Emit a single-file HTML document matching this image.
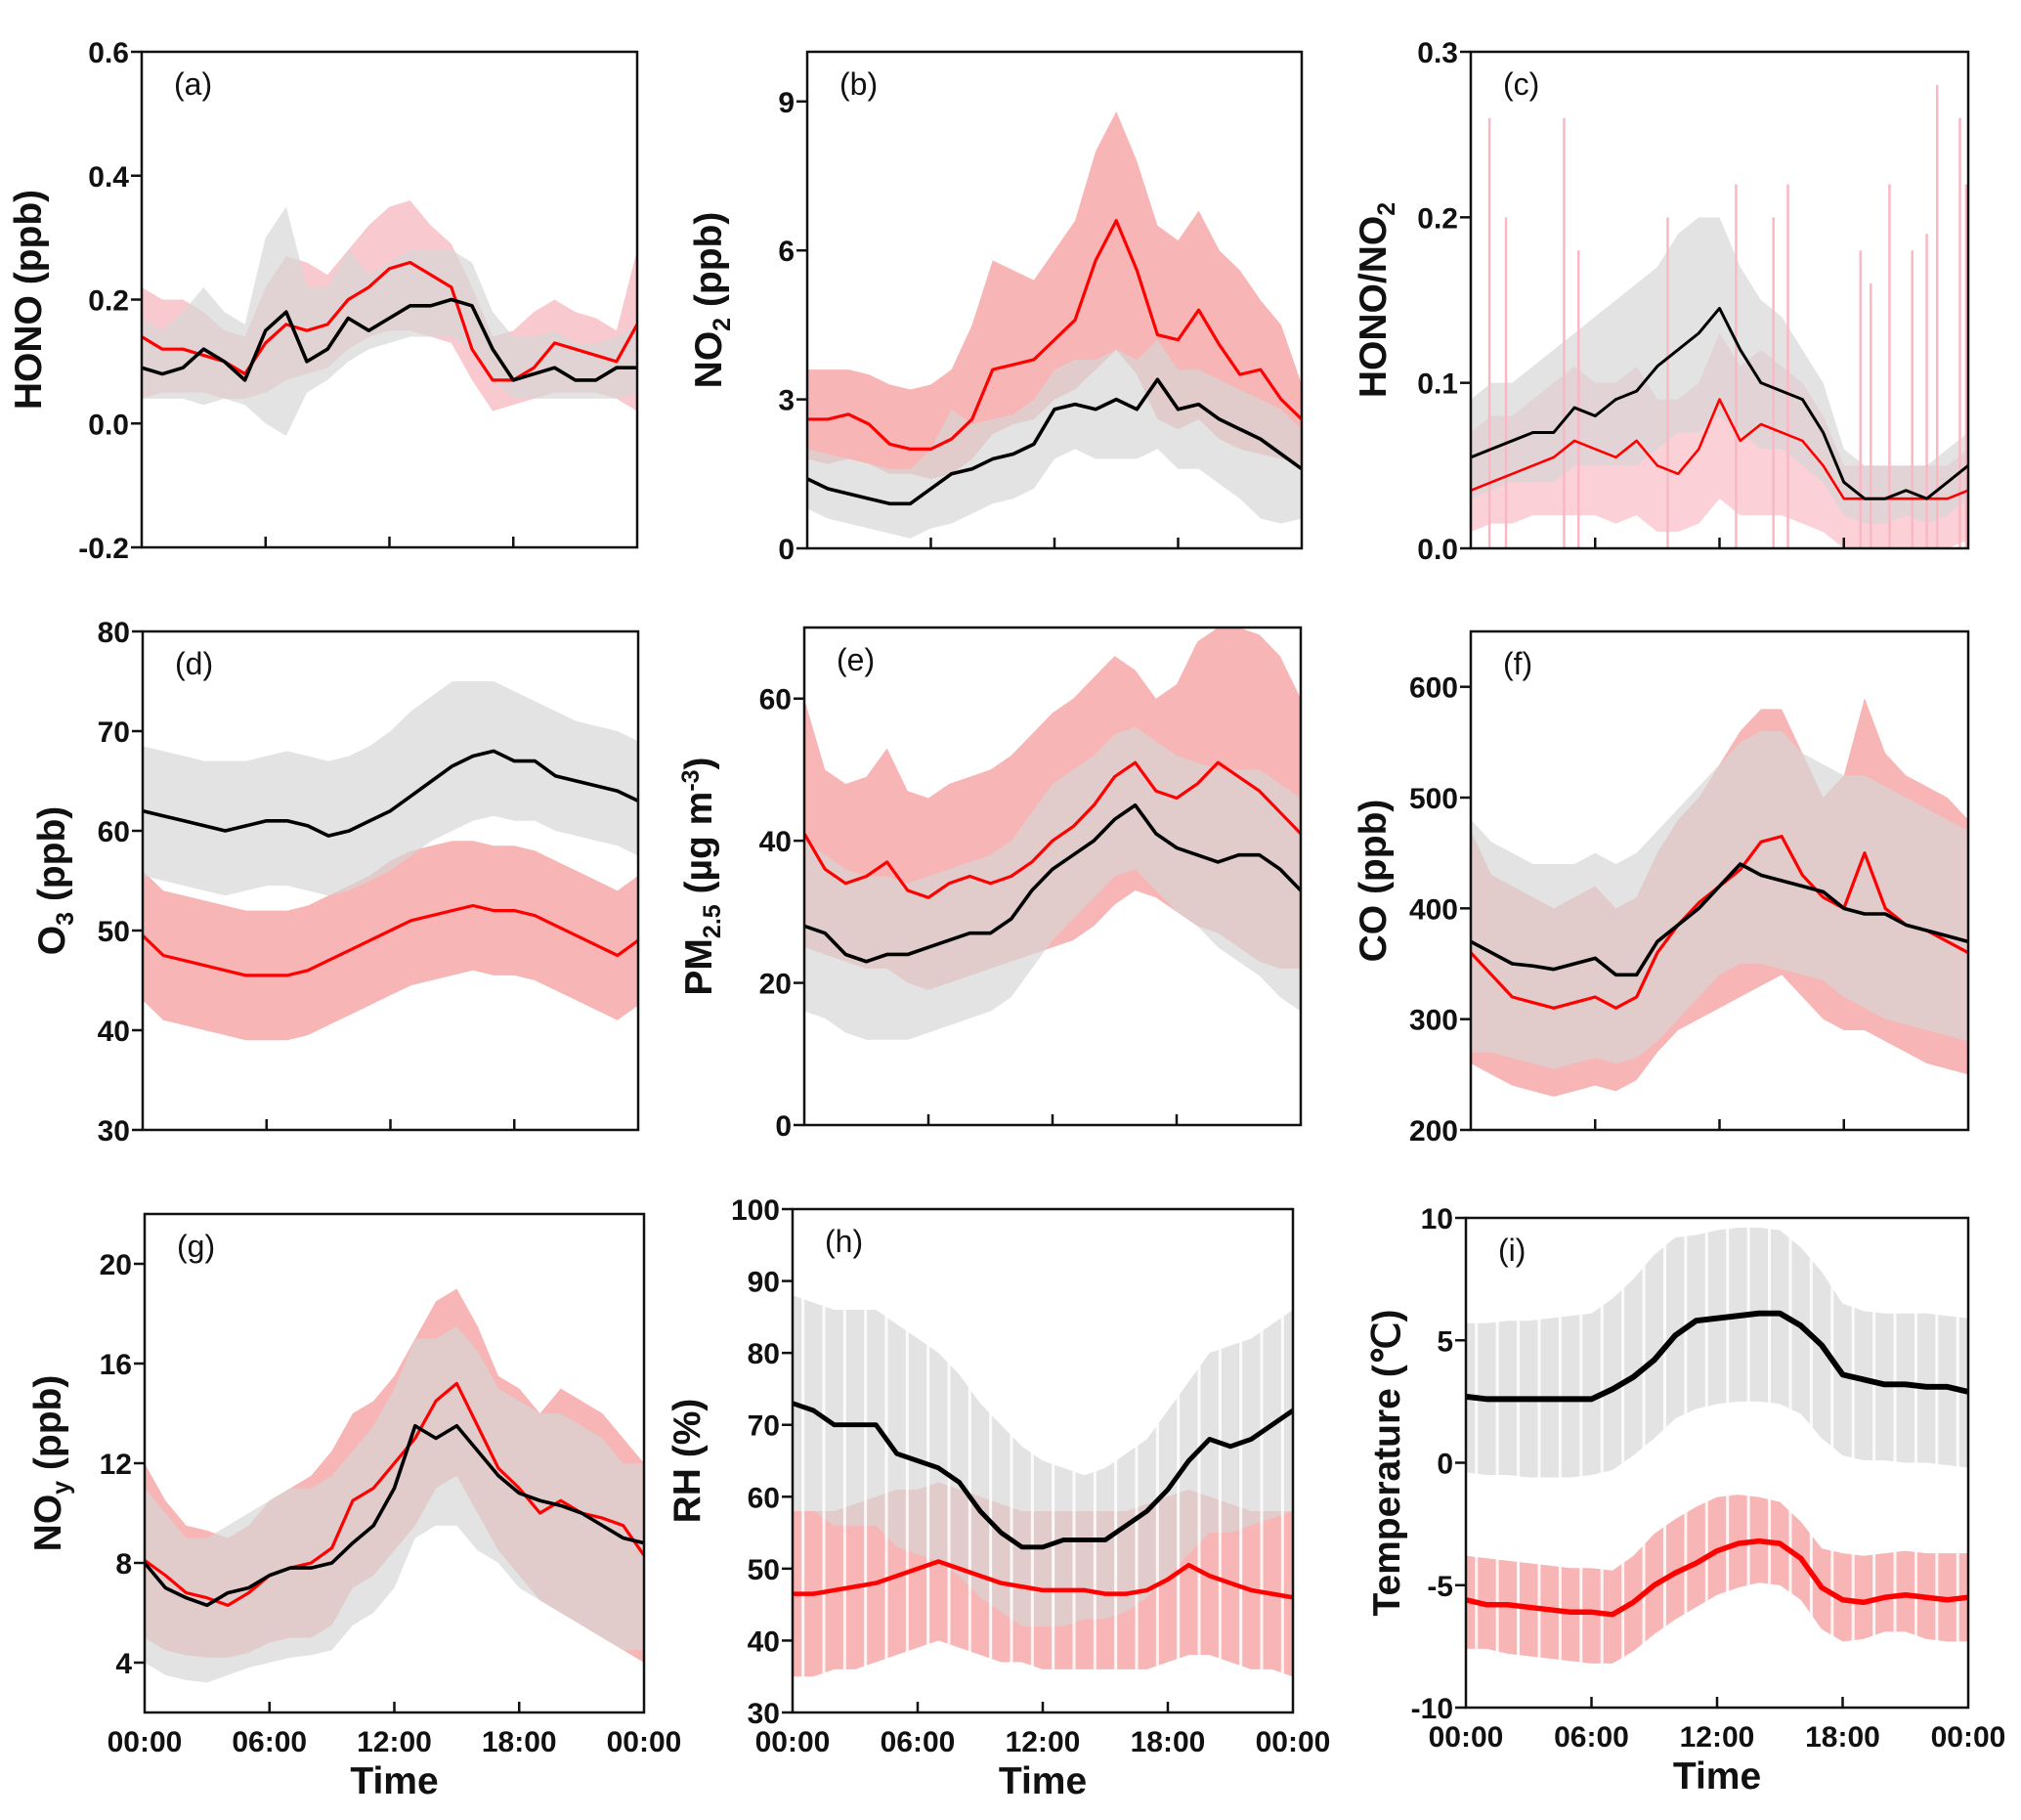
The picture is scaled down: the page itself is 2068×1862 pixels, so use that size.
<!DOCTYPE html>
<html><head><meta charset="utf-8">
<style>
html,body{margin:0;padding:0;background:#fff;}
svg text{font-family:"Liberation Sans",Arial,sans-serif;}
.tk{font-size:30px;font-weight:bold;fill:#111;}
.tt{font-size:39px;font-weight:bold;fill:#111;}
.pl{font-size:32px;fill:#111;}
</style></head>
<body>
<svg id="fig" width="2068" height="1857" viewBox="0 0 2068 1857" xmlns="http://www.w3.org/2000/svg"></svg>
<script>
const hours=[0,1,2,3,4,5,6,7,8,9,10,11,12,13,14,15,16,17,18,19,20,21,22,23,24];
const xTickHours=[0,6,12,18,24];
const xTickLabels=["00:00","06:00","12:00","18:00","00:00"];
// (a) HONO
const aRed=[.14,.12,.12,.11,.10,.08,.13,.16,.15,.16,.20,.22,.25,.26,.24,.22,.12,.07,.07,.09,.13,.12,.11,.10,.16];
const aBlack=[.09,.08,.09,.12,.10,.07,.15,.18,.10,.12,.17,.15,.17,.19,.19,.20,.19,.12,.07,.08,.09,.07,.07,.09,.09];
const aRedHi=[.22,.20,.20,.18,.15,.14,.22,.27,.26,.24,.28,.32,.35,.36,.32,.29,.22,.14,.15,.18,.20,.18,.17,.15,.28];
const aRedLo=[.04,.05,.05,.05,.04,.04,.05,.07,.08,.09,.12,.14,.15,.15,.14,.13,.07,.02,.03,.04,.05,.05,.05,.04,.02];
const aGrayHi=[.17,.15,.18,.22,.18,.16,.30,.35,.22,.22,.28,.24,.26,.28,.28,.28,.26,.18,.14,.14,.15,.13,.13,.14,.16];
const aGrayLo=[.04,.04,.04,.03,.04,.03,.0,-.02,.05,.07,.10,.12,.13,.14,.14,.14,.12,.07,.04,.04,.04,.04,.04,.04,.05];
const aTicks=[-0.2,0.0,0.2,0.4,0.6];
const aTickLabels=["-0.2","0.0","0.2","0.4","0.6"];
// (b) NO2
const bRed=[2.6,2.6,2.7,2.5,2.1,2.0,2.0,2.2,2.6,3.6,3.7,3.8,4.2,4.6,5.8,6.6,5.6,4.3,4.2,4.8,4.1,3.5,3.6,3.0,2.6];
const bBlack=[1.4,1.2,1.1,1.0,0.9,0.9,1.2,1.5,1.6,1.8,1.9,2.1,2.8,2.9,2.8,3.0,2.8,3.4,2.8,2.9,2.6,2.4,2.2,1.9,1.6];
const bRedHi=[3.6,3.6,3.6,3.5,3.3,3.2,3.3,3.6,4.5,5.8,5.6,5.4,6.0,6.6,8.0,8.8,7.8,6.5,6.2,6.8,6.0,5.6,5.0,4.5,3.3];
const bRedLo=[1.8,1.7,1.8,1.7,1.5,1.5,1.4,1.5,1.8,2.3,2.5,2.6,3.0,3.2,3.6,4.0,3.5,2.6,2.4,2.6,2.2,2.0,1.9,1.8,1.7];
const bGrayHi=[2.0,1.9,1.8,1.7,1.6,1.6,2.0,2.8,2.5,2.6,2.7,3.0,3.6,3.8,3.8,4.0,3.8,4.2,3.6,3.6,3.4,3.2,3.0,2.8,2.4];
const bGrayLo=[0.8,0.6,0.5,0.4,0.3,0.2,0.4,0.5,0.7,0.9,1.0,1.2,1.8,2.0,1.8,1.8,1.8,2.0,1.6,1.6,1.3,1.0,0.6,0.5,0.6];
const bTicks=[0,3,6,9];
const bTickLabels=["0","3","6","9"];
// (c) HONO/NO2
const cRed=[.035,.04,.045,.05,.055,.065,.06,.055,.065,.05,.045,.06,.09,.065,.075,.07,.065,.05,.03,.03,.03,.03,.03,.03,.035];
const cBlack=[.055,.06,.065,.07,.07,.085,.08,.09,.095,.11,.12,.13,.145,.12,.10,.095,.09,.07,.04,.03,.03,.035,.03,.04,.05];
const cRedHi=[.07,.08,.08,.09,.10,.11,.10,.10,.11,.09,.09,.10,.13,.11,.12,.11,.10,.08,.05,.05,.05,.05,.05,.05,.06];
const cRedLo=[.01,.015,.015,.02,.02,.02,.02,.015,.02,.01,.01,.015,.03,.02,.02,.02,.015,.01,.0,.0,.0,.0,.0,.0,.005];
const cGrayHi=[.09,.10,.10,.11,.12,.13,.14,.15,.16,.17,.19,.20,.20,.17,.15,.14,.12,.10,.06,.05,.05,.05,.05,.06,.07];
const cGrayLo=[.03,.035,.04,.04,.04,.05,.05,.05,.05,.06,.07,.07,.08,.07,.06,.06,.05,.04,.02,.015,.015,.02,.015,.02,.03];
const cSpikeHours=[0.9,1.7,4.5,5.2,9.5,12.8,14.6,15.3,18.8,19.3,20.2,21.3,22.0,22.5,23.6,23.9];
const cSpikeTops=[0.26,0.20,0.26,0.18,0.20,0.22,0.20,0.22,0.18,0.16,0.22,0.18,0.19,0.28,0.26,0.22];
const cTicks=[0,0.1,0.2,0.3];
const cTickLabels=["0.0","0.1","0.2","0.3"];
// (d) O3
const dRed=[49.5,47.5,47,46.5,46,45.5,45.5,45.5,46,47,48,49,50,51,51.5,52,52.5,52,52,51.5,50.5,49.5,48.5,47.5,49];
const dBlack=[62,61.5,61,60.5,60,60.5,61,61,60.5,59.5,60,61,62,63.5,65,66.5,67.5,68,67,67,65.5,65,64.5,64,63];
const dRedHi=[56,54,53.5,53,52.5,52,52,52,52.5,53.5,54.5,55.5,57,58,58.5,59,59,58.5,58.5,58,57,56,55,54,55.5];
const dRedLo=[43,41,40.5,40,39.5,39,39,39,39.5,40.5,41.5,42.5,43.5,44.5,45,45.5,46,45.5,45.5,45,44,43,42,41,42.5];
const dGrayHi=[68.5,68,67.5,67,67,67,67.5,68,67.5,67,67.5,68.5,70,72,73.5,75,75,75,74,73,72,71,70.5,70,69];
const dGrayLo=[55.5,55,54.5,54,53.5,54,54.5,54.5,54,53.5,54,55,56,57.5,59,60,61,61.5,61,61,60,59.5,59,58.5,57.5];
const dTicks=[30,40,50,60,70,80];
const dTickLabels=["30","40","50","60","70","80"];
// (e) PM2.5
const eRed=[41,36,34,35,37,33,32,34,35,34,35,37,40,42,45,49,51,47,46,48,51,49,47,44,41];
const eBlack=[28,27,24,23,24,24,25,26,27,27,29,33,36,38,40,43,45,41,39,38,37,38,38,36,33];
const eRedHi=[60,50,48,49,53,47,46,48,49,50,52,55,58,60,63,66,64,60,62,68,70,70,69,66,60];
const eRedLo=[25,24,23,22,22,20,19,20,21,22,23,24,25,26,28,31,33,32,30,28,27,25,23,22,22];
const eGrayHi=[40,38,36,35,35,34,35,36,37,38,40,44,48,50,52,55,56,54,52,51,50,50,50,48,46];
const eGrayLo=[16,15,13,12,12,12,13,14,15,16,18,22,26,29,32,35,36,33,30,28,25,23,21,18,16];
const eTicks=[0,20,40,60];
const eTickLabels=["0","20","40","60"];
// (f) CO
const fRed=[360,340,320,315,310,315,320,310,320,360,385,405,420,435,460,465,430,410,400,450,400,385,380,370,360];
const fBlack=[370,360,350,348,345,350,355,340,340,370,385,400,420,440,430,425,420,415,400,395,395,385,380,375,370];
const fRedHi=[470,430,420,410,400,410,420,400,410,450,480,500,530,560,580,580,540,500,520,590,540,520,510,500,480];
const fRedLo=[260,250,240,235,230,235,240,235,245,270,290,300,310,320,330,340,320,300,290,290,280,270,260,255,250];
const fGrayHi=[480,460,450,440,440,440,450,440,450,470,490,510,530,550,560,560,540,530,520,520,510,500,490,480,470];
const fGrayLo=[270,270,265,260,255,260,265,260,265,280,300,320,340,350,350,345,340,335,320,310,300,295,290,285,280];
const fTicks=[200,300,400,500,600];
const fTickLabels=["200","300","400","500","600"];
// (g) NOy
const gRed=[8.1,7.5,6.8,6.6,6.3,6.8,7.5,7.8,8.0,8.6,10.5,11.0,12.0,13.0,14.5,15.2,13.5,11.8,11.0,10.0,10.5,10.0,9.8,9.5,8.3];
const gBlack=[8.0,7.0,6.6,6.3,6.8,7.0,7.5,7.8,7.8,8.0,8.8,9.5,11.0,13.5,13.0,13.5,12.5,11.5,10.8,10.5,10.3,10.0,9.5,9.0,8.8];
const gRedHi=[12,10.5,9.5,9.3,9.0,9.5,10.5,11.0,11.5,12.5,14.0,14.5,15.5,17.0,18.5,19.0,17.5,15.5,15.0,14.0,15.0,14.5,14.0,13.0,12.0];
const gRedLo=[5,4.5,4.3,4.2,4.2,4.4,4.8,5.0,5.0,5.5,7.0,7.5,8.5,9.5,11.0,11.5,10.0,8.5,7.5,6.5,6.0,5.5,5.0,4.5,4.0];
const gGrayHi=[11,10,9,9,9.5,10,10.5,11,11,11.5,12.5,13.5,15,17,17,17.5,16.5,15,14.5,14,14,13.5,13,12,12];
const gGrayLo=[4,3.5,3.3,3.2,3.5,3.8,4.0,4.2,4.3,4.5,5.5,6.0,7.0,9.0,9.5,9.5,8.5,8.0,7.0,6.5,6.0,5.5,5.0,4.5,4.5];
const gTicks=[4,8,12,16,20];
const gTickLabels=["4","8","12","16","20"];
// (h) RH
const hRed=[46.5,46.5,47,47.5,48,49,50,51,50,49,48,47.5,47,47,47,46.5,46.5,47,48.5,50.5,49,48,47,46.5,46];
const hBlack=[73,72,70,70,70,66,65,64,62,58,55,53,53,54,54,54,56,58,61,65,68,67,68,70,72];
const hRedHi=[58,58,58,59,60,61,61,62,61,60,59,58,58,58,58,58,58,59,60,61,60,59,58,58,58];
const hRedLo=[35,35,36,36,37,38,39,40,39,38,37,37,36,36,36,36,36,36,37,38,38,37,36,36,35];
const hGrayHi=[88,87,86,86,86,84,82,80,77,73,70,67,65,64,63,64,66,68,72,76,80,81,82,84,86];
const hGrayLo=[58,58,56,56,56,53,52,51,49,46,44,42,42,42,43,43,44,46,49,52,55,55,56,57,58];
const hTicks=[30,40,50,60,70,80,90,100];
const hTickLabels=["30","40","50","60","70","80","90","100"];
// (i) Temperature
const iRed=[-5.6,-5.8,-5.8,-5.9,-6.0,-6.1,-6.1,-6.2,-5.7,-5.0,-4.5,-4.1,-3.6,-3.3,-3.2,-3.3,-3.9,-5.1,-5.6,-5.7,-5.5,-5.4,-5.5,-5.6,-5.5];
const iBlack=[2.7,2.6,2.6,2.6,2.6,2.6,2.6,3.0,3.5,4.2,5.2,5.8,5.9,6.0,6.1,6.1,5.6,4.8,3.6,3.4,3.2,3.2,3.1,3.1,2.9];
const iRedHi=[-3.8,-3.9,-4.0,-4.1,-4.2,-4.3,-4.3,-4.4,-3.8,-2.9,-2.3,-1.8,-1.4,-1.3,-1.4,-1.6,-2.4,-3.5,-3.7,-3.8,-3.7,-3.6,-3.7,-3.7,-3.7];
const iRedLo=[-7.6,-7.6,-7.8,-7.9,-8.0,-8.1,-8.2,-8.2,-7.7,-7.0,-6.4,-5.9,-5.4,-5.1,-4.9,-5.0,-5.6,-6.8,-7.3,-7.2,-6.9,-6.9,-7.2,-7.3,-7.3];
const iGrayHi=[5.7,5.7,5.8,5.8,5.9,6.0,6.1,6.7,7.5,8.5,9.2,9.3,9.5,9.6,9.6,9.5,8.8,7.8,6.5,6.2,6.1,6.1,6.1,6.0,5.9];
const iGrayLo=[-0.4,-0.5,-0.5,-0.6,-0.6,-0.6,-0.5,-0.3,0.3,1.0,1.8,2.2,2.4,2.5,2.5,2.4,2.0,1.0,0.3,0.1,0.1,0.0,0.0,-0.1,-0.2];
const iTicks=[-10,-5,0,5,10];
const iTickLabels=["-10","-5","0","5","10"];

const NS="http://www.w3.org/2000/svg";
const fig=document.getElementById('fig');
function mk(tag,attrs,parent){const e=document.createElementNS(NS,tag);for(const k in attrs)e.setAttribute(k,attrs[k]);(parent||fig).appendChild(e);return e;}

const panels=[
 {id:'a',x0:145,x1:652,y0:53,y1:560,ymin:-0.2,ymax:0.6,ticks:aTicks,tl:aTickLabels,red:aRed,black:aBlack,rh:aRedHi,rl:aRedLo,gh:aGrayHi,gl:aGrayLo,pink:'#f9c6cd',title:[['HONO (ppb)']],tx:42,xl:false,lw:3.2},
 {id:'b',x0:826,x1:1332,y0:53,y1:561,ymin:0,ymax:10,ticks:bTicks,tl:bTickLabels,red:bRed,black:bBlack,rh:bRedHi,rl:bRedLo,gh:bGrayHi,gl:bGrayLo,pink:'#f8b1b1',title:[['NO'],['2','sub'],[' (ppb)']],tx:738,xl:false,lw:3.2},
 {id:'c',x0:1505,x1:2014,y0:53,y1:561,ymin:0,ymax:0.3,ticks:cTicks,tl:cTickLabels,red:cRed,black:cBlack,rh:cRedHi,rl:cRedLo,gh:cGrayHi,gl:cGrayLo,pink:'#fbcdd5',title:[['HONO/NO'],['2','sub']],tx:1418,xl:false,lw:2.6,spikes:true},
 {id:'d',x0:146,x1:653,y0:646,y1:1156,ymin:30,ymax:80,ticks:dTicks,tl:dTickLabels,red:dRed,black:dBlack,rh:dRedHi,rl:dRedLo,gh:dGrayHi,gl:dGrayLo,pink:'#f8b1b1',title:[['O'],['3','sub'],[' (ppb)']],tx:66,xl:false,lw:3.2},
 {id:'e',x0:823,x1:1331,y0:642,y1:1151,ymin:0,ymax:70,ticks:eTicks,tl:eTickLabels,red:eRed,black:eBlack,rh:eRedHi,rl:eRedLo,gh:eGrayHi,gl:eGrayLo,pink:'#f8b1b1',title:[['PM'],['2.5','sub'],[' (µg m'],['-3','sup'],[')']],tx:728,xl:false,lw:3.2},
 {id:'f',x0:1505,x1:2014,y0:646,y1:1156,ymin:200,ymax:650,ticks:fTicks,tl:fTickLabels,red:fRed,black:fBlack,rh:fRedHi,rl:fRedLo,gh:fGrayHi,gl:fGrayLo,pink:'#f8b1b1',title:[['CO (ppb)']],tx:1418,xl:false,lw:3.2},
 {id:'g',x0:148,x1:659,y0:1242,y1:1752,ymin:2,ymax:22,ticks:gTicks,tl:gTickLabels,red:gRed,black:gBlack,rh:gRedHi,rl:gRedLo,gh:gGrayHi,gl:gGrayLo,pink:'#f8b1b1',title:[['NO'],['y','sub'],[' (ppb)']],tx:62,xl:true,lw:3.2},
 {id:'h',x0:811,x1:1323,y0:1237,y1:1752,ymin:30,ymax:100,ticks:hTicks,tl:hTickLabels,red:hRed,black:hBlack,rh:hRedHi,rl:hRedLo,gh:hGrayHi,gl:hGrayLo,pink:'#f8b1b1',title:[['RH (%)']],tx:716,xl:true,lw:4.5,stripes:true},
 {id:'i',x0:1500,x1:2014,y0:1246,y1:1747,ymin:-10,ymax:10,ticks:iTicks,tl:iTickLabels,red:iRed,black:iBlack,rh:iRedHi,rl:iRedLo,gh:iGrayHi,gl:iGrayLo,pink:'#f8b1b1',title:[['Temperature (℃)']],tx:1432,xl:true,lw:5.5,stripes:true}
];

panels.forEach(p=>{
  const g=mk('g',{});
  
  
  const X=h=>p.x0+(p.x1-p.x0)*h/24;
  const Y=v=>p.y1-(p.y1-p.y0)*(v-p.ymin)/(p.ymax-p.ymin);
  const cid='clip'+p.id;
  const cp=mk('clipPath',{id:cid},g);mk('rect',{x:p.x0,y:p.y0,width:p.x1-p.x0,height:p.y1-p.y0},cp);
  const plot=mk('g',{'clip-path':'url(#'+cid+')'},g);
  function band(hi,lo,fill,op,name){
    let d='M'+hours.map((h,i)=>X(h)+','+Y(hi[i])).join('L');
    for(let i=hours.length-1;i>=0;i--)d+='L'+X(hours[i])+','+Y(lo[i]);
    const e=mk('path',{d:d+'Z',fill:fill,'fill-opacity':op},plot);
    
    
  }
  function line(v,col,w,name){
    const e=mk('path',{d:'M'+hours.map((h,i)=>X(h)+','+Y(v[i])).join('L'),fill:'none',stroke:col,'stroke-width':w,'stroke-linejoin':'round'},plot);
    
    
  }
  band(p.rh,p.rl,p.pink,0.95,'red-range-band');
  band(p.gh,p.gl,'#d6d6d6',0.68,'gray-range-band');
  if(p.spikes){
    cSpikeHours.forEach((h,i)=>{
      const s=mk('line',{x1:X(h),x2:X(h),y1:Y(0),y2:Y(cSpikeTops[i]),stroke:'#f9b8c4','stroke-width':2.5},plot);
      
      
    });
  }
  if(p.stripes){
    for(let k=0;k<24;k++){
      const xs=X(k+0.5);
      mk('line',{x1:xs,x2:xs,y1:p.y0,y2:p.y1,stroke:'#fff','stroke-width':3,'stroke-opacity':0.85},plot);
    }
  }
  line(p.red,'#ff0000',p.lw,'red-mean-line');
  line(p.black,'#000',p.lw+0.4,'black-mean-line');
  const fr=mk('rect',{x:p.x0,y:p.y0,width:p.x1-p.x0,height:p.y1-p.y0,fill:'none',stroke:'#111','stroke-width':2.5},g);
  
  
  p.ticks.forEach((t,i)=>{
    const y=Y(t);
    mk('line',{x1:p.x0-11,x2:p.x0,y1:y,y2:y,stroke:'#111','stroke-width':2.5},g);
    const tx=mk('text',{x:p.x0-13,y:y+11,'text-anchor':'end',class:'tk'},g);
    tx.textContent=p.tl[i];
    
    
  });
  xTickHours.forEach((h,i)=>{
    const x=X(h);
    if(i>0&&i<4) mk('line',{x1:x,x2:x,y1:p.y1-11,y2:p.y1,stroke:'#111','stroke-width':2.5},g);
    if(p.xl){
      const tx=mk('text',{x:x,y:p.y1+40,'text-anchor':'middle',class:'tk'},g);
      tx.textContent=xTickLabels[i];
      
      
    }
  });
  if(p.xl){
    const t=mk('text',{x:(p.x0+p.x1)/2,y:p.y1+83,'text-anchor':'middle',class:'tt'},g);
    t.textContent='Time';
    
    
  }
  const lab=mk('text',{x:p.x0+33,y:p.y0+44,class:'pl'},g);
  lab.textContent='('+p.id+')';
  
  
  const cy=(p.y0+p.y1)/2;
  const yt=mk('text',{x:p.tx,y:cy,'text-anchor':'middle',class:'tt',transform:'rotate(-90 '+p.tx+' '+cy+')'},g);
  
  
  p.title.forEach(part=>{
    const s=mk('tspan',{},yt);
    s.textContent=part[0];
    if(part[1]==='sub'){s.setAttribute('font-size','25');s.setAttribute('dy','9');}
    else if(part[1]==='sup'){s.setAttribute('font-size','25');s.setAttribute('dy','-13');}
    else if(s.previousSibling&&s.previousSibling.getAttribute('dy')){s.setAttribute('dy',-parseFloat(s.previousSibling.getAttribute('dy')));}
  });
});
</script>
</body></html>
